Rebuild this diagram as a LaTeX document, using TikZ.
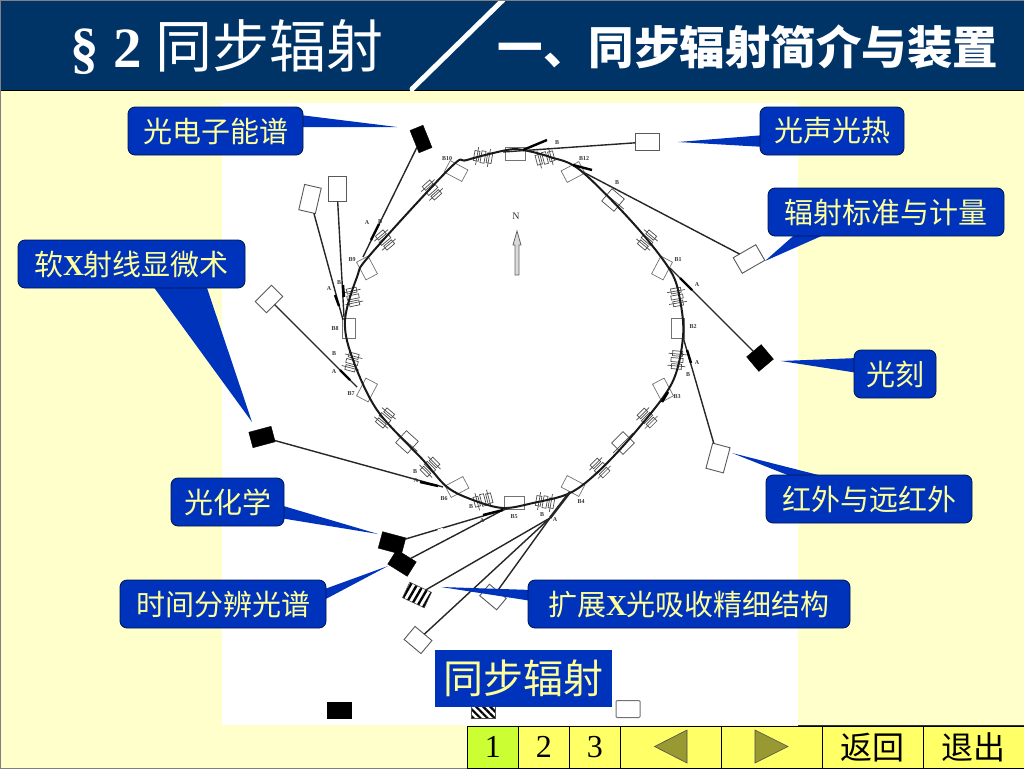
\documentclass[tikz,border=0pt]{standalone}
\usepackage{fontspec}
\setmainfont{Noto Sans CJK SC}
\newfontfamily\lat{Liberation Serif}
\usetikzlibrary{patterns.meta,calc}
\definecolor{navy}{HTML}{003366}
\definecolor{cream}{HTML}{FFFFCC}
\definecolor{callblue}{HTML}{0033BB}
\definecolor{paleyellow}{HTML}{FFFF99}
\definecolor{navyellow}{HTML}{FFFF66}
\definecolor{navgreen}{HTML}{CCFF33}
\definecolor{olive}{HTML}{999933}
\newcommand{\fs}[1]{\fontsize{#1}{#1}\selectfont}
\newcommand{\latx}{{\lat\bfseries X}}
\tikzset{
 callout/.style={draw=black!60!callblue,line width=.8pt,fill=callblue,rounded corners=7pt,text=paleyellow,font=\fs{29},inner sep=0pt,anchor=center},
 wedge/.style={fill=callblue,draw=none},
 ws/.style={draw=black!65,line width=.9pt,fill=white,inner sep=0pt,outer sep=0pt},
 bs/.style={draw=black,fill=black,inner sep=0pt,outer sep=0pt},
 beam/.style={draw=black!85,line width=1.4pt},
 ringline/.style={draw=black!90,line width=2pt},
 bend/.style={draw=black!55,line width=.7pt,fill=white,inner sep=0pt,minimum width=#1},
 mag/.style={draw=black!70,line width=.7pt},
 tiny/.style={font=\fs{6}\bfseries\lat,text=black!80,inner sep=0pt},
 navcell/.style={draw=black,line width=.7pt,inner sep=0pt,minimum height=42pt,anchor=north west,fill=navyellow,font=\fs{32}},
 navtri/.style={fill=olive,draw=black!70,line width=.6pt},
}
\newcommand{\magnet}[3]{%
 \begin{scope}[shift={(#1,#2)},rotate=#3]
  \draw[mag,fill=white] (-9,-5) rectangle (-4,5);
  \draw[mag,fill=white] (-2,-6) rectangle (2,6);
  \draw[mag,fill=white] (4,-5) rectangle (9,5);
  \draw[mag] (-6,-9) -- (-6,9);
  \draw[mag] (6,-9) -- (6,9);
 \end{scope}}
\newcommand{\bigmag}[3]{%
 \begin{scope}[shift={(#1,#2)},rotate=#3]
  \draw[mag,fill=white] (-8,-8) rectangle (8,8);
  \draw[mag] (0,-14) -- (0,14);
 \end{scope}}
\begin{document}
\begin{tikzpicture}[x=1pt,y=-1pt]
\useasboundingbox (0,0) rectangle (1024,768);
% backgrounds
\fill[cream] (0,0) rectangle (1024,768);
\fill[white] (222,103) rectangle (798,725);
\fill[navy] (0,0) rectangle (1024,90);
\draw[black,line width=1pt] (0,90.5) -- (1024,90.5);
\draw[white,line width=5pt,line cap=round] (503,0) -- (412,89);
\draw[black!50,line width=.6pt] (0,0) rectangle (1024,768);
\node[text=white,font=\fs{57},inner sep=0pt] (title1) at (227,47) {{\lat\bfseries\S\ 2} 同步辐射};
\node[text=white,font=\fs{45.5}\bfseries,inner sep=0pt] (title2) at (748,47) {一、同步辐射简介与装置};
% magnets and bends
\foreach \x/\y/\a in {483/157/-10,432/190/-48,385/240/-50,353/297/-78,352/362/75,385/418/50,430/467/45,483/500/15,545/502/-10,600/468/-45,647/418/-45,677/360/85,677/297/-80,647/240/50,545/158/15}{\magnet{\x}{\y}{\a}}
\foreach \x/\y/\a in {407/442/48,623/443/-45,613/200/50}{\bigmag{\x}{\y}{\a}}
\foreach \x/\y/\a in {515/154/0,573/172/28,662/268/62,678/328/90,663/390/118,573/486/-28,514/503/0,457/487/28,367/390/62,349/328/90,367/268/118,456/171/-28}{
 \node[bend=20pt,minimum height=13pt,rotate=\a] at (\x,\y) {};}
% ring
\draw[ringline] plot[smooth cycle,tension=.55] coordinates {(523,150)(550,157)(580,170)(633,223)(670,270)(680,300)(683,337)(672,383)(637,430)(600,470)(570,493)(533,503)(503,508)(473,500)(447,487)(423,460)(377,410)(352,357)(345,320)(357,277)(370,255)(450,168)(467,160)(507,150)};
% stations
\node[bs,minimum width=14pt,minimum height=24pt,rotate=22] (s1) at (421,139) {};
\node[ws,minimum width=17pt,minimum height=26pt,rotate=-13] (s2) at (310,199) {};
\node[ws,minimum width=18pt,minimum height=25pt] (s3) at (337,189) {};
\node[ws,minimum width=23pt,minimum height=16pt,rotate=45] (s4) at (269,299) {};
\node[bs,minimum width=23pt,minimum height=16pt,rotate=15] (s5) at (262,437) {};
\node[bs,minimum width=24pt,minimum height=17pt,rotate=-15] (s6) at (392,543) {};
\node[bs,minimum width=23pt,minimum height=17pt,rotate=-32] (s7) at (402,563) {};
\node[draw=black!70,line width=.6pt,inner sep=0pt,outer sep=0pt,minimum width=24pt,minimum height=17pt,rotate=-25,pattern={Lines[angle=60,distance=5.5pt,line width=2.4pt]}] (s8) at (417,595) {};
\node[ws,minimum width=22pt,minimum height=17pt,rotate=-40] (s9) at (418,640) {};
\node[ws,minimum width=22pt,minimum height=15pt,rotate=-40] (s10) at (493,597) {};
\node[ws,minimum width=18pt,minimum height=26pt,rotate=-15] (s11) at (718,458) {};
\node[bs,minimum width=19pt,minimum height=19pt,rotate=40] (s12) at (760,358) {};
\node[ws,minimum width=26pt,minimum height=18pt,rotate=30] (s13) at (749,259) {};
\node[ws,minimum width=24pt,minimum height=17pt] (s14) at (647,142) {};
% junction coordinates on the ring
\coordinate (j1) at (363,257);
\coordinate (j2) at (343,320);
\coordinate (j3) at (344,317);
\coordinate (j4) at (357,387);
\coordinate (j5) at (443,487);
\coordinate (j6) at (510,508);
\coordinate (j7) at (503,510);
\coordinate (j8) at (550,518);
\coordinate (j9) at (683,337);
\coordinate (j10) at (670,268);
\coordinate (j11) at (583,172);
\coordinate (j12) at (503,152);
\coordinate (j13) at (570,492);
\draw[beam] (s1) -- (j1);
\draw[beam] (s2) -- (j2);
\draw[beam] (s3) -- (j3);
\draw[beam] (s4) -- (j4);
\draw[beam] (s5) -- (j5);
\draw[beam] (s6) -- (j6);
\draw[white,line width=2.5pt] (438,530.5) -- (443,529);
\draw[beam] (s7) -- (j7);
\draw[beam] (s8) -- (j8);
\draw[beam] (s9) -- (j8);
\draw[beam] (s10) -- (j8);
\draw[line width=2.6pt,black!85] (j8) -- (j13);
\draw[beam] (s11) -- (j9);
\draw[beam] (s12) -- (j10);
\draw[beam] (s13) -- (j11);
\draw[beam] (s14) -- (j12);
% short thick marks on beamlines
\foreach \a/\b/\c/\d in {371/240/379/224,335/295/339/306,343/285/344/297,340/370/350/380,420/482/438/486,483/515/503/510,523/150/547/140,573/165/592/170,680/278/692/290,687/350/691/363,662/402/668/392}{\draw[black,line width=2.4pt] (\a,\b) -- (\c,\d);}
% north arrow
\node[tiny,font=\fs{10}\lat] (north) at (516,216) {N};
\draw[draw=black!60,line width=.8pt,fill=black!15] (515,275) -- (515,245) -- (513,245) -- (517,231) -- (521,245) -- (519,245) -- (519,275) -- cycle;
% tiny labels
\foreach \x/\y/\t in {447/159/B10,584/159/B12,678/260/B1,693/327/B2,677/397/B3,581/502/B4,514/517/B5,444/499/B6,351/394/B7,335/329/B8,352/260/B9,
 367/223/A,380/222/B,329/289/A,339/283/B,334/372/A,334/354/B,415/472/B,416/481/A,471/507/B,482/521/A,555/520/A,542/515/B,617/183/B,697/285/A,697/363/A,688/375/B,557/143/B}{\node[tiny] at (\x,\y) {\t};}
% legend
\node[bs,minimum width=24pt,minimum height=16pt] (leg1) at (339,710) {};
\node[draw=black!70,line width=.5pt,inner sep=0pt,minimum width=24pt,minimum height=16pt,pattern={Lines[angle=-45,distance=5pt,line width=2.2pt]}] (leg2) at (483,710) {};
\node[draw=black!55,line width=1pt,rounded corners=1pt,fill=white,inner sep=0pt,minimum width=24pt,minimum height=17pt] (leg3) at (628,709) {};
% wedges
\coordinate (t1) at (397,127);
\coordinate (t2) at (678,142);
\coordinate (t3) at (765,261);
\coordinate (t4) at (781,361);
\coordinate (t5) at (732,453);
\coordinate (t6) at (441,587);
\coordinate (t7) at (388,566);
\coordinate (t8) at (378,534);
\coordinate (t9) at (252,422);
\fill[wedge] (300,115) -- (t1) -- (300,127) -- cycle;
\fill[wedge] (765,135) -- (t2) -- (765,147) -- cycle;
\fill[wedge] (800,230) -- (t3) -- (835,230) -- cycle;
\fill[wedge] (858,358) -- (t4) -- (858,373) -- cycle;
\fill[wedge] (800,480) -- (t5) -- (838,480) -- cycle;
\fill[wedge] (532,590) -- (t6) -- (532,601) -- cycle;
\fill[wedge] (322,590) -- (t7) -- (322,601) -- cycle;
\fill[wedge] (280,505) -- (t8) -- (280,518) -- cycle;
\fill[wedge] (150,282) -- (t9) -- (205,282) -- cycle;
% callouts
\node[callout,minimum width=175pt,minimum height=48pt] (c1) at (215.5,131) {光电子能谱};
\node[callout,minimum width=144pt,minimum height=48pt] (c2) at (832,131) {光声光热};
\node[callout,minimum width=236pt,minimum height=48pt] (c3) at (886,212) {辐射标准与计量};
\node[callout,minimum width=82pt,minimum height=48pt] (c4) at (895,374) {光刻};
\node[callout,minimum width=206pt,minimum height=48pt] (c5) at (869,499) {红外与远红外};
\node[callout,minimum width=322pt,minimum height=48pt] (c6) at (689,604) {扩展\latx 光吸收精细结构};
\node[callout,minimum width=206pt,minimum height=48pt] (c7) at (223,604) {时间分辨光谱};
\node[callout,minimum width=113pt,minimum height=48pt] (c8) at (227.5,502) {光化学};
\node[callout,minimum width=227pt,minimum height=48pt] (c9) at (131.5,264) {软\latx 射线显微术};
% banner
\node[fill=callblue,text=paleyellow,font=\fs{40},inner sep=0pt,minimum width=177pt,minimum height=57pt] (banner) at (523.5,678.5) {同步辐射};
% navigation
\draw[black!80,line width=.8pt] (798,725.5) -- (1024,725.5);
\node[navcell,minimum width=51pt,fill=navgreen,font=\fs{32}\lat] (n1) at (467,726) {1};
\node[navcell,minimum width=51pt,font=\fs{32}\lat] (n2) at (518,726) {2};
\node[navcell,minimum width=51pt,font=\fs{32}\lat] (n3) at (569,726) {3};
\node[navcell,minimum width=101pt] (n4) at (620,726) {};
\node[navcell,minimum width=101pt] (n5) at (721,726) {};
\node[navcell,minimum width=101pt] (n6) at (822,726) {返回};
\node[navcell,minimum width=101pt] (n7) at (923,726) {退出};
\draw[navtri] (654.5,746.5) -- (687,730) -- (687,763) -- cycle;
\draw[navtri] (755,730) -- (788,746.5) -- (755,763) -- cycle;
\end{tikzpicture}
\end{document}
